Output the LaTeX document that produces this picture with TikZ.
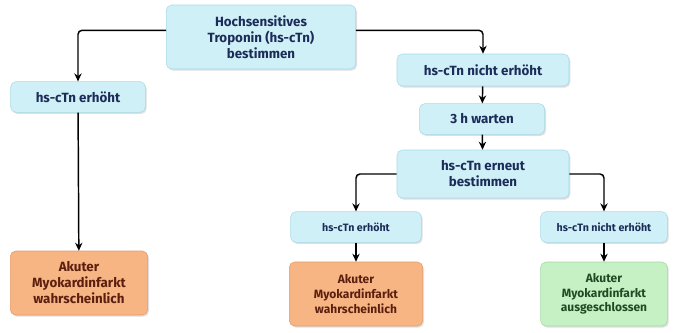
\documentclass[tikz,border=0pt]{standalone}
\usepackage{fontspec}
\setmainfont{Fira Sans}
\usetikzlibrary{arrows.meta,positioning,shadows}
\definecolor{tnblue}{HTML}{D0F0F8}
\definecolor{tnblueline}{HTML}{A6DAE8}
\definecolor{tnnavy}{HTML}{1C2C58}
\definecolor{miorange}{HTML}{F8B584}
\definecolor{miorangeline}{HTML}{E59A68}
\definecolor{mibrown}{HTML}{5A1F0E}
\definecolor{migreen}{HTML}{C6F1C4}
\definecolor{migreenline}{HTML}{A2D9A2}
\definecolor{midarkgreen}{HTML}{1F4A24}

\begin{document}
\begin{tikzpicture}[
        x=0.75pt, y=-0.75pt,
        box/.style={rectangle, rounded corners=4pt, draw=tnblueline, fill=tnblue, align=center, text=tnnavy, font=\bfseries, inner sep=2pt, drop shadow={shadow xshift=1pt, shadow yshift=-1.2pt, opacity=0.25}},
        smallbox/.style={box, font=\bfseries\footnotesize},
        infarct/.style={box, draw=miorangeline, fill=miorange, text=mibrown, minimum height=48pt},
        excluded/.style={box, draw=migreenline, fill=migreen, text=midarkgreen, minimum height=48pt},
        arrow/.style={-{Stealth[length=6pt,width=5.5pt]}, line width=1.1pt, black, rounded corners=3pt}
    ]
        \useasboundingbox (0,0) rectangle (678,332);

        \node[box, minimum width=142pt, minimum height=48pt] (tnt) at (261,37) {Hochsensitives\\Troponin (hs-cTn)\\bestimmen};

        \node[box, minimum width=101pt, minimum height=23pt] (high) at (78,97) {hs-cTn erhöht};
        \node[infarct, minimum width=103pt] (mi1) at (79,283) {Akuter\\Myokardinfarkt\\wahrscheinlich};

        \node[box, minimum width=129pt, minimum height=24pt] (normal) at (483,70) {hs-cTn nicht erhöht};
        \node[box, minimum width=94pt, minimum height=23pt] (wait) at (482,119) {3 h warten};
        \node[box, minimum width=129pt, minimum height=36pt] (again) at (483,174) {hs-cTn erneut\\bestimmen};

        \node[smallbox, minimum width=98pt, minimum height=23pt] (high2) at (356,227) {hs-cTn erhöht};
        \node[smallbox, minimum width=95pt, minimum height=23pt] (normal2) at (604,227) {hs-cTn nicht erhöht};
        \node[infarct, minimum width=100pt, font=\bfseries\small] (mi2) at (356,294) {Akuter\\Myokardinfarkt\\wahrscheinlich};
        \node[excluded, minimum width=95pt, font=\bfseries\small] (nomi) at (604,294) {Akuter\\Myokardinfarkt\\ausgeschlossen};

        \draw[arrow] ([yshift=5pt]tnt.west) -| (high.north);
        \draw[arrow] ([yshift=5pt]tnt.east) -| (normal.north);
        \draw[arrow] (high) -- (mi1);
        \draw[arrow] (normal) -- (wait);
        \draw[arrow] (wait) -- (again);
        \draw[arrow] (again.west) -| (high2.north);
        \draw[arrow] (again.east) -| (normal2.north);
        \draw[arrow] (high2) -- (mi2);
        \draw[arrow] (normal2) -- (nomi);
    \end{tikzpicture}
\end{document}
